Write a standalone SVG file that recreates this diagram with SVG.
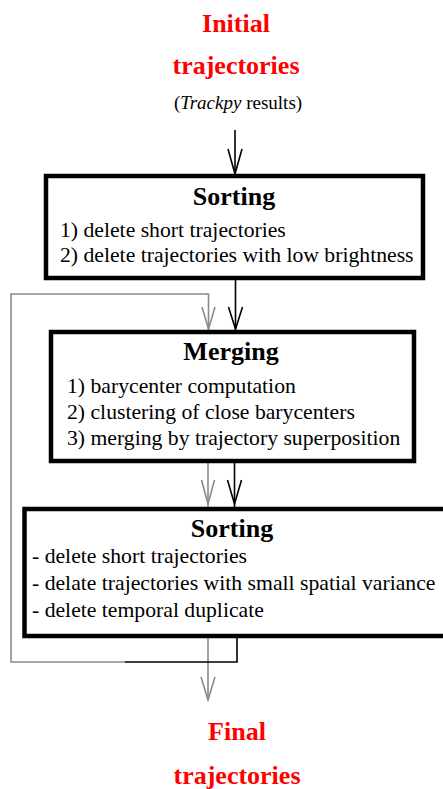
<svg xmlns="http://www.w3.org/2000/svg" width="443" height="789" viewBox="0 0 443 789">
<style>
.title{font-family:"Liberation Serif","Times New Roman",serif;font-weight:bold;font-size:26px;fill:#ff0000;text-anchor:middle}
.head{font-family:"Liberation Serif","Times New Roman",serif;font-weight:bold;font-size:26px;fill:#000;text-anchor:middle}
.item{font-family:"Liberation Serif","Times New Roman",serif;font-size:21.7px;fill:#000}
.sub{font-family:"Liberation Serif","Times New Roman",serif;font-size:19px;fill:#000;text-anchor:middle}
.box{fill:#fff;stroke:#000;stroke-width:4.5}
.blk{fill:none;stroke:#000;stroke-width:1.6}
.gry{fill:none;stroke:#8a8a8a;stroke-width:1.6}
</style>
<rect width="443" height="789" fill="#fff"/>
<g id="connectors">
  <path class="blk" d="M235 130 V176"/>
  <path class="blk" d="M228 149 L235 174 L242 149"/>
  <path class="blk" d="M235.5 278 V331"/>
  <path class="blk" d="M228.5 307 L235.5 329 L242.5 307"/>
  <path class="gry" d="M125 662 H11 V294 H208.5 V331"/>
  <path class="gry" d="M202 307 L208.5 329 L215 307"/>
  <path class="blk" d="M234.5 461 V507"/>
  <path class="blk" d="M227.5 480 L234.5 504 L241.5 480"/>
  <path class="gry" d="M208 461 V507"/>
  <path class="gry" d="M201.5 480 L208 504 L214.5 480"/>
  <path class="gry" d="M208 636 V700"/>
  <path class="gry" d="M201 677 L208 700 L215 677"/>
  <path class="blk" d="M125 662 H237 V636"/>
</g>
<g id="initial">
  <text class="title" x="236" y="32">Initial</text>
  <text class="title" x="236" y="74">trajectories</text>
  <text class="sub" x="238" y="109">(<tspan font-style="italic">Trackpy</tspan> results)</text>
</g>
<g id="sorting1">
  <rect class="box" x="46" y="176" width="377" height="102"/>
  <text class="head" x="234" y="205">Sorting</text>
  <text class="item" x="60" y="237">1) delete short trajectories</text>
  <text class="item" x="60" y="262">2) delete trajectories with low brightness</text>
</g>
<g id="merging">
  <rect class="box" x="51" y="332" width="363" height="129"/>
  <text class="head" x="231" y="360">Merging</text>
  <text class="item" x="67" y="393">1) barycenter computation</text>
  <text class="item" x="67" y="419">2) clustering of close barycenters</text>
  <text class="item" x="67" y="445">3) merging by trajectory superposition</text>
</g>
<g id="sorting2">
  <rect class="box" x="24.5" y="509" width="424" height="127"/>
  <text class="head" x="232" y="537">Sorting</text>
  <text class="item" x="32" y="563">- delete short trajectories</text>
  <text class="item" x="32" y="590">- delate trajectories with small spatial variance</text>
  <text class="item" x="32" y="617">- delete temporal duplicate</text>
</g>
<g id="final">
  <text class="title" x="237" y="740">Final</text>
  <text class="title" x="237" y="784">trajectories</text>
</g>
</svg>
